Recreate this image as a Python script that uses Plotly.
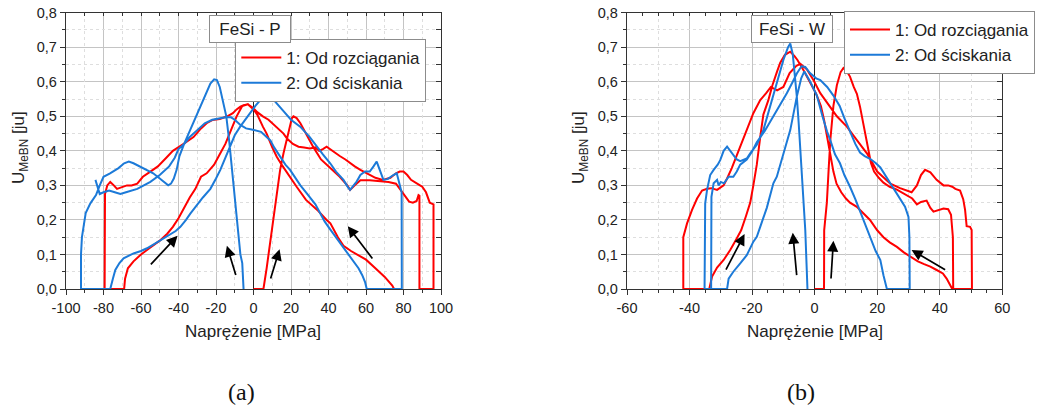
import plotly.graph_objects as go

# ================= Panel (a): FeSi - P =================
# red "1: Od rozciągania" - pieces of one recorded path
a_red_rise_x = [0, 5.3, 7, 9, 11, 13, 14.2, 16, 18, 19.5, 20.5, 21.3, 23, 25, 28, 32, 36, 41, 46, 50, 51.5, 54, 57, 62, 65, 69, 72, 76, 78, 80, 83, 85, 87, 88, 88.5, 88.5]
a_red_rise_y = [0, 0, 0.06, 0.135, 0.215, 0.29, 0.345, 0.393, 0.44, 0.475, 0.495, 0.5, 0.495, 0.48, 0.45, 0.41, 0.375, 0.35, 0.325, 0.30, 0.287, 0.30, 0.315, 0.315, 0.313, 0.311, 0.31, 0.305, 0.29, 0.272, 0.253, 0.25, 0.255, 0.272, 0.27, 0]
a_red_back_x = [96, 96, 95, 94, 92, 90, 88.8, 86, 84, 82, 80, 78, 76, 73, 69, 65, 60, 57, 54, 52, 49, 46, 44, 41, 39, 37, 35, 33, 30, 27, 24, 21, 18, 16, 13, 11, 8, 5, 2, 0, -3, -5, -7, -9, -11, -14, -18, -22, -25, -28, -32, -36, -39, -43, -46, -51, -55, -59, -62, -65, -67.5, -70, -72.8, -74.5, -76.4, -78, -79.2, -79.4]
a_red_back_y = [0, 0.245, 0.248, 0.25, 0.28, 0.296, 0.30, 0.31, 0.316, 0.33, 0.34, 0.34, 0.335, 0.322, 0.316, 0.322, 0.335, 0.345, 0.355, 0.364, 0.375, 0.385, 0.393, 0.405, 0.412, 0.405, 0.40, 0.41, 0.407, 0.41, 0.412, 0.42, 0.435, 0.45, 0.465, 0.475, 0.49, 0.50, 0.512, 0.523, 0.535, 0.533, 0.528, 0.52, 0.509, 0.50, 0.492, 0.489, 0.48, 0.465, 0.44, 0.425, 0.415, 0.40, 0.383, 0.355, 0.34, 0.325, 0.305, 0.30, 0.30, 0.295, 0.29, 0.30, 0.31, 0.30, 0.275, 0]
a_red_low_x = [-69, -68.5, -67, -64, -60, -55, -50, -46, -43, -40, -37, -34, -31, -28, -25, -21, -18, -15, -12, -9, -6, -3, 0, 2, 5, 7, 10, 12.4, 15, 18, 23, 28, 34, 39, 41, 45, 48, 52, 55, 60, 65, 70, 74, 75]
a_red_low_y = [0, 0.03, 0.06, 0.08, 0.10, 0.12, 0.14, 0.16, 0.18, 0.205, 0.235, 0.265, 0.29, 0.325, 0.335, 0.36, 0.39, 0.42, 0.46, 0.50, 0.53, 0.535, 0.52, 0.505, 0.47, 0.45, 0.41, 0.383, 0.36, 0.335, 0.296, 0.258, 0.229, 0.2, 0.19, 0.15, 0.125, 0.11, 0.10, 0.085, 0.06, 0.035, 0.01, 0]

# blue "2: Od ściskania"
a_blue_hook_x = [-84.3, -83, -82, -80, -77, -74, -71, -68, -65, -62, -60, -55, -50, -45, -42, -40, -37, -34, -30, -26, -22, -18, -15, -12, -10, -7, -4, -1, 2, 4, 7, 9, 11, 14, 17, 19.5, 22, 25, 28, 30, 33, 35.5, 38, 41, 44, 48, 51, 53, 56, 58, 59.5, 60.4]
a_blue_hook_y = [0.316, 0.29, 0.275, 0.28, 0.285, 0.28, 0.275, 0.28, 0.285, 0.29, 0.296, 0.31, 0.33, 0.355, 0.38, 0.405, 0.42, 0.44, 0.46, 0.48, 0.49, 0.493, 0.497, 0.497, 0.49, 0.475, 0.465, 0.462, 0.458, 0.455, 0.44, 0.43, 0.41, 0.383, 0.36, 0.345, 0.325, 0.30, 0.28, 0.265, 0.245, 0.22, 0.195, 0.172, 0.15, 0.122, 0.10, 0.084, 0.06, 0.04, 0.02, 0]
a_blue_mid_x = [79.1, 79, 78.2, 77.5, 76.4, 74.6, 71.5, 69.3, 67.5, 65.7, 64, 62, 59.5, 57, 55, 53, 51.5, 50, 48, 44, 40.9, 37, 33.8, 30, 24.9, 20, 16, 12.4, 9, 7.1, 5.5, 3.6, 1, -1.8, -4, -7.1, -10, -12.4, -15, -17.7, -20, -23, -27, -30, -33.7, -36, -39, -41.5, -44.4, -47, -49.7, -53, -56.8, -60, -64, -66, -69.3, -71.5, -73.7, -75, -76.4]
a_blue_mid_y = [0, 0.28, 0.296, 0.315, 0.335, 0.33, 0.318, 0.316, 0.345, 0.369, 0.355, 0.34, 0.34, 0.33, 0.311, 0.298, 0.287, 0.298, 0.316, 0.34, 0.364, 0.39, 0.412, 0.44, 0.47, 0.49, 0.515, 0.538, 0.56, 0.57, 0.565, 0.547, 0.53, 0.509, 0.495, 0.47, 0.445, 0.412, 0.38, 0.345, 0.32, 0.29, 0.265, 0.245, 0.218, 0.2, 0.18, 0.168, 0.158, 0.15, 0.142, 0.13, 0.118, 0.11, 0.103, 0.098, 0.089, 0.075, 0.055, 0.03, 0]
a_blue_peak_x = [-92, -92, -91.5, -90.5, -89.5, -87, -84, -82, -80, -76.5, -72, -69, -66.5, -64, -60.5, -57, -53.5, -50, -47, -45.5, -44, -42.5, -41, -39.5, -37, -33, -29, -26, -23, -21, -19.5, -18, -16.5, -14.5, -13, -11.5, -10, -8.5, -7, -6, -5.3]
a_blue_peak_y = [0, 0.10, 0.15, 0.19, 0.22, 0.248, 0.272, 0.30, 0.325, 0.335, 0.35, 0.364, 0.369, 0.364, 0.355, 0.345, 0.335, 0.32, 0.305, 0.30, 0.305, 0.32, 0.345, 0.385, 0.42, 0.47, 0.52, 0.56, 0.595, 0.607, 0.605, 0.585, 0.55, 0.50, 0.43, 0.35, 0.27, 0.18, 0.10, 0.075, 0]

# arrows (tail -> head) in data units
a_arrow_tail_x = [-55.5, -9.2, 8.9, 64]
a_arrow_tail_y = [0.067, 0.036, 0.026, 0.084]
a_arrow_head_x = [-40.5, -14.2, 13.9, 50.3]
a_arrow_head_y = [0.154, 0.125, 0.115, 0.182]

# ================= Panel (b): FeSi - W =================
b_red_rise_x = [0, 3, 3.05, 3.9, 4.5, 5, 6, 7.1, 8.3, 9.2, 10.3, 11.3, 12.5, 13.5, 14.5, 15.3, 16.1, 17, 18, 19, 20.5, 22, 24, 26.3, 28.4, 30, 31.2, 32.7, 34, 35.8, 37, 38, 40, 41.2, 42.7, 43.6, 44.2, 44.3]
b_red_rise_y = [0, 0, 0.17, 0.25, 0.35, 0.43, 0.53, 0.59, 0.628, 0.64, 0.63, 0.615, 0.585, 0.565, 0.528, 0.49, 0.45, 0.41, 0.365, 0.34, 0.322, 0.308, 0.296, 0.288, 0.276, 0.268, 0.262, 0.245, 0.252, 0.256, 0.235, 0.224, 0.23, 0.233, 0.231, 0.215, 0.15, 0]
b_red_back_x = [50.3, 50.2, 49.7, 48.6, 48.1, 47.5, 46.5, 45, 44, 42.7, 41.2, 39, 37, 35.3, 34, 32.7, 31, 29.5, 27.3, 24.2, 22, 20, 18.8, 16.7, 13.5, 10.3, 7.1, 5, 1.8, -0.4, -2.5, -4.6, -6, -8, -10, -12, -14, -15.5, -17.4, -19.6, -21.7, -23.5, -25, -26.5, -28, -29.1, -31.2, -33, -34.4, -36, -37.6, -39.2, -40.8, -42, -42]
b_red_back_y = [0, 0.171, 0.18, 0.182, 0.229, 0.26, 0.285, 0.29, 0.296, 0.30, 0.30, 0.316, 0.338, 0.345, 0.33, 0.30, 0.28, 0.285, 0.292, 0.305, 0.322, 0.34, 0.36, 0.393, 0.431, 0.47, 0.50, 0.528, 0.567, 0.605, 0.636, 0.652, 0.645, 0.625, 0.585, 0.575, 0.585, 0.567, 0.547, 0.509, 0.46, 0.42, 0.385, 0.35, 0.32, 0.30, 0.287, 0.292, 0.29, 0.285, 0.262, 0.229, 0.19, 0.15, 0]
b_red_low_x = [-33.7, -32.8, -31.2, -29.1, -27, -25, -23.5, -22, -20.6, -19.6, -18.5, -17.4, -16.4, -14.8, -13.5, -12, -11, -9.5, -7.8, -6.5, -5.5, -3.6, -1.5, 0.5, 2, 3, 4, 5, 6, 7, 8.5, 10, 11.3, 13.5, 15.5, 17.7, 20, 22, 24, 26.3, 28.5, 30.5, 33, 35, 37, 39, 41, 42.2, 43.5, 44]
b_red_low_y = [0, 0.036, 0.062, 0.084, 0.113, 0.145, 0.17, 0.21, 0.25, 0.3, 0.36, 0.44, 0.505, 0.547, 0.59, 0.63, 0.655, 0.678, 0.687, 0.675, 0.663, 0.634, 0.6, 0.565, 0.53, 0.49, 0.44, 0.39, 0.34, 0.305, 0.28, 0.262, 0.25, 0.238, 0.22, 0.2, 0.17, 0.15, 0.135, 0.122, 0.106, 0.094, 0.08, 0.072, 0.065, 0.055, 0.045, 0.03, 0.01, 0]

b_blue_mid_x = [-33.1, -33.1, -33, -32.3, -31.2, -30.7, -30, -29, -27.5, -26, -24.9, -23.8, -21.7, -20, -18.5, -16, -13.2, -11, -8.9, -7, -5.7, -4.2, -3, -1.5, 0.5, 1.8, 4, 6, 8, 9.5, 11.3, 13, 14.5, 16, 17.7, 19.5, 21, 22.5, 24, 25.7, 27.3, 28.9, 30, 30.3, 30.4]
b_blue_mid_y = [0, 0.15, 0.267, 0.306, 0.316, 0.30, 0.31, 0.306, 0.325, 0.325, 0.34, 0.36, 0.375, 0.398, 0.425, 0.457, 0.499, 0.535, 0.567, 0.6, 0.624, 0.645, 0.643, 0.625, 0.61, 0.605, 0.585, 0.56, 0.53, 0.495, 0.455, 0.42, 0.395, 0.385, 0.377, 0.365, 0.352, 0.33, 0.31, 0.285, 0.26, 0.238, 0.209, 0.15, 0]
b_blue_low_x = [23.1, 22, 21, 19.5, 17.7, 16, 14.5, 13, 11.3, 9.5, 8.1, 6.5, 5, 4, 2.5, 0.7, -1.4, -2.5, -3.3, -4.3, -5.7, -7.8, -10, -12.1, -13.2, -15.3, -17.4, -18.5, -19.6, -21.7, -23.8, -26, -27.5, -28]
b_blue_low_y = [0, 0.04, 0.084, 0.11, 0.151, 0.19, 0.229, 0.26, 0.296, 0.33, 0.364, 0.39, 0.431, 0.455, 0.5, 0.56, 0.6, 0.62, 0.63, 0.61, 0.557, 0.46, 0.393, 0.325, 0.306, 0.235, 0.18, 0.151, 0.137, 0.098, 0.074, 0.05, 0.03, 0]
b_blue_peak_x = [-35.2, -35.2, -35, -34.4, -33.4, -32.3, -31, -30.2, -29.1, -28, -27, -26, -24.9, -23.8, -21.7, -20.6, -18.5, -16.4, -14.2, -12.1, -10, -8.5, -7.8, -7, -6.3, -5.7, -5.1, -4.6, -4, -3.6, -3, -2.6, -2.3]
b_blue_peak_y = [0, 0.12, 0.248, 0.287, 0.33, 0.345, 0.36, 0.373, 0.40, 0.412, 0.40, 0.385, 0.375, 0.37, 0.378, 0.393, 0.418, 0.46, 0.528, 0.596, 0.663, 0.70, 0.711, 0.68, 0.62, 0.557, 0.48, 0.412, 0.33, 0.267, 0.171, 0.074, 0]

b_arrow_tail_x = [-28.6, -5.7, 5.2, 42.2]
b_arrow_tail_y = [0.052, 0.036, 0.026, 0.053]
b_arrow_head_x = [-22.4, -7.0, 6.0, 31.0]
b_arrow_head_y = [0.159, 0.163, 0.14, 0.113]

# axis ticks
a_xticks = [-100, -80, -60, -40, -20, 0, 20, 40, 60, 80, 100]
b_xticks = [-60, -40, -20, 0, 20, 40, 60]
yticks = [0, 0.1, 0.2, 0.3, 0.4, 0.5, 0.6, 0.7, 0.8]
ytick_text = ["0,0", "0,1", "0,2", "0,3", "0,4", "0,5", "0,6", "0,7", "0,8"]

names = ["1: Od rozciągania", "2: Od ściskania"]
titles = ["FeSi - P", "FeSi - W"]
x_title = "Naprężenie [MPa]"
y_title = "U<sub>MeBN</sub> [ju]"
captions = ["(a)", "(b)"]

RED = "#ff0000"
BLUE = "#1c7ad8"
FONT = "Liberation Sans, Arial, sans-serif"
AX = "#333333"


def chain(*pairs):
    xs, ys = [], []
    for x, y in pairs:
        xs += list(x)
        ys += list(y)
    return xs, ys


fig = go.Figure()

# panel a traces
rx, ry = chain((a_red_rise_x, a_red_rise_y), (a_red_back_x, a_red_back_y), (a_red_low_x, a_red_low_y))
bx, by = chain((a_blue_hook_x, a_blue_hook_y), (a_blue_mid_x, a_blue_mid_y), (a_blue_peak_x, a_blue_peak_y))
fig.add_trace(go.Scatter(x=rx, y=ry, mode="lines", name=names[0], line=dict(color=RED, width=2),
                         xaxis="x", yaxis="y", legend="legend"))
fig.add_trace(go.Scatter(x=bx, y=by, mode="lines", name=names[1], line=dict(color=BLUE, width=2),
                         xaxis="x", yaxis="y", legend="legend"))

# panel b traces
rx, ry = chain((b_red_rise_x, b_red_rise_y), (b_red_back_x, b_red_back_y), (b_red_low_x, b_red_low_y))
bx, by = chain((b_blue_mid_x, b_blue_mid_y), (b_blue_low_x, b_blue_low_y), (b_blue_peak_x, b_blue_peak_y))
fig.add_trace(go.Scatter(x=rx, y=ry, mode="lines", name=names[0], line=dict(color=RED, width=2),
                         xaxis="x2", yaxis="y2", legend="legend2"))
fig.add_trace(go.Scatter(x=bx, y=by, mode="lines", name=names[1], line=dict(color=BLUE, width=2),
                         xaxis="x2", yaxis="y2", legend="legend2"))

# empty helper traces so the mirrored (top / right) axes are drawn
fig.add_trace(go.Scatter(x=[None], y=[None], xaxis="x3", yaxis="y3", showlegend=False, hoverinfo="skip"))
fig.add_trace(go.Scatter(x=[None], y=[None], xaxis="x4", yaxis="y4", showlegend=False, hoverinfo="skip"))

Y_DOM = [(412 - 289) / 412, (412 - 12.7) / 412]
A_DOM = [66 / 1041, 441 / 1041]
B_DOM = [627 / 1041, 1002.3 / 1041]
TICKFONT = dict(family=FONT, size=14.5, color="#222")


def x_main(dom, rng, ticks, minor, anchor):
    return dict(domain=dom, range=rng, anchor=anchor, autorange=False, automargin=False,
                tickmode="array", tickvals=ticks, ticktext=[str(t) for t in ticks],
                ticks="outside", ticklen=5, tickwidth=1.2, tickcolor=AX,
                minor=dict(tickmode="linear", tick0=0, dtick=minor, ticks="outside", ticklen=3,
                           tickwidth=1, tickcolor=AX, showgrid=False),
                showgrid=True, gridcolor="#c4c4c4", gridwidth=1,
                showline=True, linecolor=AX, linewidth=1.3,
                zeroline=True, zerolinecolor="#222222", zerolinewidth=1.2,
                tickfont=TICKFONT)


def x_top(dom, rng, grid_vals, minor, overlay, anchor):
    return dict(domain=dom, range=rng, anchor=anchor, overlaying=overlay, side="top", autorange=False,
                automargin=False,
                tickmode="array", tickvals=grid_vals, ticks="inside", ticklen=3, tickwidth=1, tickcolor=AX,
                showticklabels=False,
                minor=dict(tickmode="linear", tick0=0, dtick=minor, ticks="inside", ticklen=3,
                           tickwidth=1, tickcolor=AX, showgrid=False),
                showgrid=True, gridcolor="#dedede", gridwidth=1, griddash="dot",
                showline=True, linecolor=AX, linewidth=1.3, zeroline=False)


def y_main(anchor):
    return dict(domain=Y_DOM, range=[0, 0.8], anchor=anchor, autorange=False, automargin=False,
                tickmode="array", tickvals=yticks, ticktext=ytick_text,
                ticks="outside", ticklen=5, tickwidth=1.2, tickcolor=AX,
                minor=dict(tickmode="linear", tick0=0, dtick=0.05, ticks="outside", ticklen=3,
                           tickwidth=1, tickcolor=AX, showgrid=False),
                showgrid=True, gridcolor="#c4c4c4", gridwidth=1,
                showline=True, linecolor=AX, linewidth=1.3, zeroline=False,
                tickfont=TICKFONT)


def y_right(overlay, anchor):
    return dict(domain=Y_DOM, range=[0, 0.8], anchor=anchor, overlaying=overlay, side="right", autorange=False,
                automargin=False,
                tickmode="array", tickvals=[0.05, 0.15, 0.25, 0.35, 0.45, 0.55, 0.65, 0.75],
                ticks="inside", ticklen=3, tickwidth=1, tickcolor=AX, showticklabels=False,
                minor=dict(tickmode="linear", tick0=0, dtick=0.05, ticks="inside", ticklen=5,
                           tickwidth=1.2, tickcolor=AX, showgrid=False),
                showgrid=True, gridcolor="#dedede", gridwidth=1, griddash="dot",
                showline=True, linecolor=AX, linewidth=1.3, zeroline=False)


a_grid = [-90, -70, -50, -30, -10, 10, 30, 50, 70, 90]
b_grid = [-50, -30, -10, 10, 30, 50]

annotations = []
# title boxes
for t, cx in zip(titles, [249.5, 791.5]):
    annotations.append(dict(text=t, xref="paper", yref="paper", x=cx / 1041, y=1 - 29 / 412,
                            xanchor="center", yanchor="middle", showarrow=False,
                            font=dict(family=FONT, size=17, color="#222"),
                            bgcolor="white", bordercolor="#8c8c8c", borderwidth=1, borderpad=3,
                            width=74, height=20))
# axis titles
for cx in [253.3, 814.5]:
    annotations.append(dict(text=x_title, xref="paper", yref="paper", x=cx / 1041, y=1 - 331 / 412,
                            xanchor="center", yanchor="middle", showarrow=False,
                            font=dict(family=FONT, size=17, color="#222")))
for cx in [20, 580]:
    annotations.append(dict(text=y_title, xref="paper", yref="paper", x=cx / 1041, y=1 - 148 / 412,
                            xanchor="center", yanchor="middle", showarrow=False, textangle=-90,
                            font=dict(family=FONT, size=17, color="#222")))
# captions
for c, cx in zip(captions, [241, 801]):
    annotations.append(dict(text=c, xref="paper", yref="paper", x=cx / 1041, y=1 - 392 / 412,
                            xanchor="center", yanchor="middle", showarrow=False,
                            font=dict(family="Liberation Serif, DejaVu Serif, serif", size=24, color="#111")))
# arrows
arrow_sets = [(a_arrow_tail_x, a_arrow_tail_y, a_arrow_head_x, a_arrow_head_y, "x", "y"),
              (b_arrow_tail_x, b_arrow_tail_y, b_arrow_head_x, b_arrow_head_y, "x2", "y2")]
for txs, tys, hxs, hys, xr, yr in arrow_sets:
    for tx, ty, hx, hy in zip(txs, tys, hxs, hys):
        annotations.append(dict(x=hx, y=hy, ax=tx, ay=ty, xref=xr, yref=yr, axref=xr, ayref=yr,
                                text="", showarrow=True, arrowhead=2, arrowsize=1.3, arrowwidth=1.7,
                                arrowcolor="black", standoff=0, startstandoff=0))

leg_common = dict(xanchor="left", yanchor="top", bgcolor="white", bordercolor="#8c8c8c", borderwidth=1,
                  font=dict(family=FONT, size=17, color="#222"), tracegroupgap=0, itemwidth=40)

fig.update_layout(
    width=1041, height=412, margin=dict(l=0, r=0, t=0, b=0, autoexpand=False),
    paper_bgcolor="white", plot_bgcolor="white",
    xaxis=x_main(A_DOM, [-100, 100], a_xticks, 10, "y"),
    yaxis=y_main("x"),
    xaxis3=x_top(A_DOM, [-100, 100], a_grid, 10, "x", "y"),
    yaxis3=y_right("y", "x"),
    xaxis2=x_main(B_DOM, [-60, 60], b_xticks, 5, "y2"),
    yaxis2=y_main("x2"),
    xaxis4=x_top(B_DOM, [-60, 60], b_grid, 5, "x2", "y2"),
    yaxis4=y_right("y2", "x2"),
    legend=dict(x=235.3 / 1041, y=1 - 39 / 412, **leg_common),
    legend2=dict(x=844 / 1041, y=1 - 11 / 412, **leg_common),
    annotations=annotations,
    showlegend=True,
)

fig.write_html("out.html", config={"displayModeBar": False},
               post_script="document.body.style.margin='0px';document.body.style.overflow='hidden';")
